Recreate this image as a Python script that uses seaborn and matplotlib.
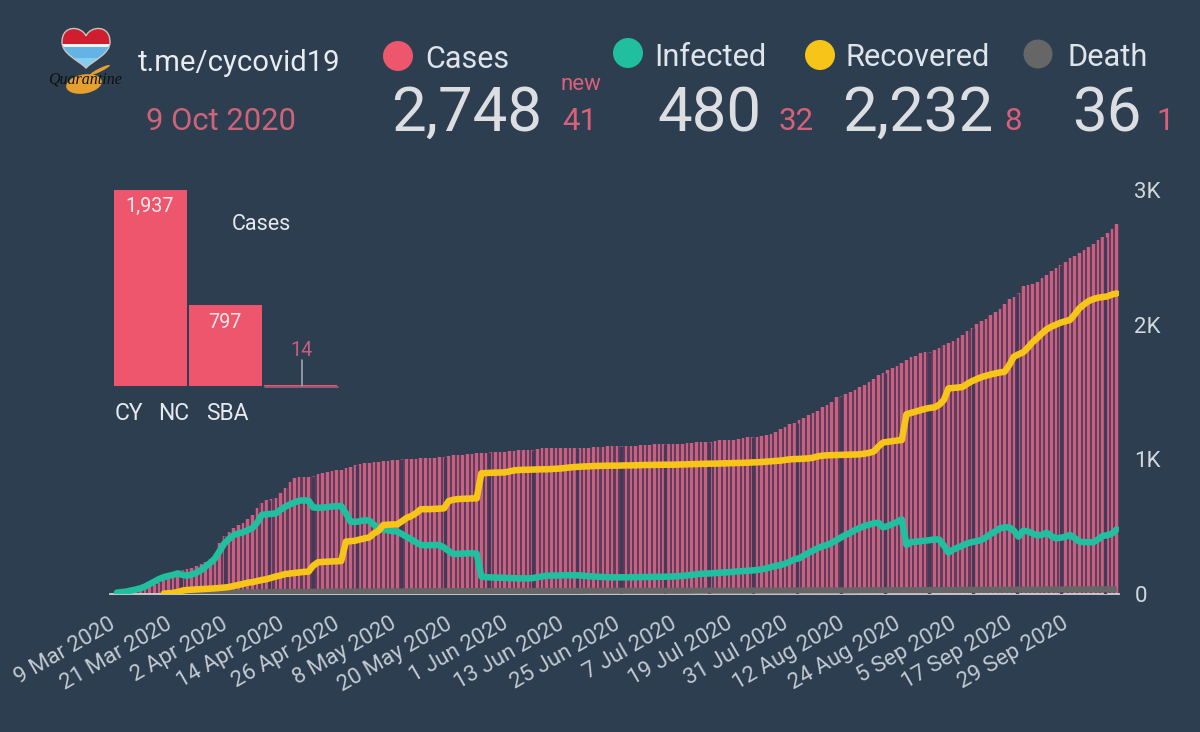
import numpy as np
import pandas as pd
import matplotlib
matplotlib.use("Agg")
import matplotlib.pyplot as plt
from matplotlib.patches import Circle, PathPatch, Rectangle, Ellipse
from matplotlib.path import Path
from matplotlib.transforms import ScaledTranslation
import seaborn as sns

nan = float("nan")

cases = [
 2,6,10,17,28,35,45,58,66,84,
 105,122,140,160,178,186,196,208,222,240,
 258,300,380,432,460,488,510,530,555,590,
 640,675,695,705,715,750,790,830,860,868,
 868,868,878,888,895,905,913,918,924,932,
 945,955,968,970,974,978,980,985,990,995,
 998,1000,1003,1005,1006,1008,1010,1012,1012,1014,
 1018,1025,1030,1032,1034,1036,1040,1047,1049,1050,
 1052,1054,1056,1058,1060,1064,1066,1068,1070,1072,
 1078,1082,1082,1083,1083,1084,1084,1084,1085,1085,
 1085,1086,1088,1090,1095,1098,1100,1100,1101,1101,
 1102,1102,1103,1105,1108,1112,1114,1114,1115,1115,
 1116,1117,1120,1124,1126,1127,1127,1128,1135,1143,
 1144,1145,1146,1148,1155,1163,1165,1166,1170,1182,
 1190,1205,1222,1240,1262,1272,1292,1310,1330,1345,
 1360,1385,1400,1425,1460,1470,1485,1500,1515,1535,
 1555,1575,1595,1626,1640,1660,1680,1695,1715,1740,
 1762,1770,1787,1795,1800,1815,1830,1849,1865,1880,
 1900,1920,1950,1973,2005,2025,2045,2070,2095,2120,
 2150,2190,2205,2237,2287,2295,2300,2319,2345,2370,
 2400,2418,2440,2465,2495,2510,2535,2555,2579,2600,
 2630,2648,2680,2707,2748]

infected = [
 10,14,18,26,33,42,55,74,92,111,
 125,134,142,153,142,136,145,158,178,205,
 232,265,320,376,410,438,450,458,475,490,
 530,587,592,595,599,625,648,665,680,693,
 695,693,643,640,642,645,650,652,653,600,
 537,535,540,548,545,515,488,480,472,468,
 463,445,425,405,385,364,362,362,364,364,
 345,320,297,298,300,302,302,300,129,125,
 123,122,121,120,118,117,116,116,116,118,
 125,130,136,136,137,138,139,139,139,138,
 135,132,130,128,126,125,124,124,124,124,
 124,125,126,126,127,127,128,128,129,130,
 132,134,138,142,146,150,152,153,155,158,
 160,162,165,168,170,173,175,178,183,190,
 200,208,215,225,240,257,265,285,305,322,
 340,355,364,380,400,420,440,455,475,490,
 505,515,525,530,495,505,520,535,554,365,
 385,388,392,396,400,406,404,360,307,330,
 345,360,376,385,392,401,420,445,465,488,
 495,495,470,426,470,465,450,435,440,455,
 430,413,418,425,438,415,389,385,385,384,
 405,431,436,448,480]

recovered = [
 nan,nan,nan,nan,nan,nan,nan,nan,nan,nan,
 3,5,8,15,25,30,32,34,36,38,
 40,42,45,48,52,60,67,75,84,88,
 96,104,110,120,130,138,148,152,156,160,
 164,166,210,235,238,240,242,243,245,389,
 392,396,405,413,420,450,470,512,515,516,
 517,540,565,579,600,629,630,630,632,634,
 636,690,700,705,707,708,710,710,896,898,
 900,901,902,903,910,918,921,922,923,924,
 925,926,926,928,930,932,936,940,943,945,
 947,948,950,951,952,953,953,953,954,955,
 955,956,957,958,958,959,959,960,960,960,
 961,962,963,964,965,966,967,968,968,969,
 970,971,972,973,974,975,977,978,980,983,
 985,988,990,995,1000,1002,1003,1005,1007,1012,
 1022,1027,1030,1031,1032,1033,1034,1035,1036,1037,
 1042,1048,1058,1095,1125,1130,1135,1140,1143,1335,
 1345,1355,1365,1375,1382,1386,1405,1440,1527,1530,
 1533,1537,1560,1580,1595,1610,1620,1630,1638,1645,
 1650,1700,1762,1780,1795,1830,1870,1900,1935,1965,
 1985,2000,2015,2025,2035,2075,2121,2150,2175,2190,
 2200,2205,2210,2224,2232]

deaths = [
 nan,nan,nan,nan,nan,nan,nan,nan,nan,nan,
 1,1,2,3,3,3,4,5,6,7,
 8,9,9,10,10,10,11,11,12,12,
 13,13,14,14,15,15,15,15,16,16,
 16,17,17,17,17,18,18,18,18,18,
 18,18,18,19,19,19,19,20,20,20,
 20,20,20,21,21,21,21,21,21,21,
 21,22,22,22,22,22,22,22,22,22,
 22,22,22,22,22,22,23,23,23,23,
 23,23,23,23,23,23,23,23,23,23,
 23,24,24,24,24,24,24,24,24,24,
 24,24,24,24,24,24,24,24,24,24,
 24,24,24,24,25,25,25,25,25,25,
 25,25,25,25,25,25,26,26,26,26,
 26,26,26,26,26,26,27,27,27,27,
 27,27,27,27,27,27,27,27,27,28,
 28,28,28,28,28,29,29,29,29,29,
 29,29,29,29,30,30,30,30,30,30,
 30,31,31,31,31,31,31,32,32,32,
 32,32,33,33,33,33,33,33,34,34,
 34,34,34,34,35,35,35,35,35,35,
 35,35,35,35,36]

tick_labels = ["9 Mar 2020", "21 Mar 2020", "2 Apr 2020", "14 Apr 2020", "26 Apr 2020",
               "8 May 2020", "20 May 2020", "1 Jun 2020", "13 Jun 2020", "25 Jun 2020",
               "7 Jul 2020", "19 Jul 2020", "31 Jul 2020", "12 Aug 2020", "24 Aug 2020",
               "5 Sep 2020", "17 Sep 2020", "29 Sep 2020"]
y_ticks = [0, 1000, 2000, 3000]
y_tick_labels = ["0", "1K", "2K", "3K"]

regions = ["CY", "NC", "SBA"]
region_cases = [1937, 797, 14]

BG = "#2c3e50"
PINK = "#ee566e"
TEAL = "#1fbf9f"
YELLOW = "#f6c518"
GREY = "#666666"
SOFT = "#d9607a"
LIGHT = "#dde1e6"

sns.set_theme(style="dark", rc={"figure.facecolor": BG, "axes.facecolor": BG, "savefig.facecolor": BG})
plt.rcParams["font.family"] = ["Roboto", "DejaVu Sans"]

W, H = 1200, 732
fig = plt.figure(figsize=(W / 100, H / 100), dpi=100)


def box(x0, y0, x1, y1):
    return [x0 / W, 1 - y1 / H, (x1 - x0) / W, (y1 - y0) / H]


df = pd.DataFrame({"day": np.arange(len(cases)), "cases": cases, "infected": infected,
                   "recovered": recovered, "deaths": deaths})

ax = fig.add_axes(box(110, 190, 1119, 594))
sns.barplot(data=df, x="day", y="cases", native_scale=True, width=1.0, color="#5f3d5c",
            saturation=1, ax=ax, zorder=1, linewidth=0, edgecolor="none")
sns.barplot(data=df, x="day", y="cases", native_scale=True, width=0.56, color="#c8607f",
            saturation=1, ax=ax, zorder=2, linewidth=0, edgecolor="none")
# the wider dark seams that run through the bar field
seams = np.arange(13.6, 214, 9.42)
ax.vlines(seams, 0, np.array(cases)[np.round(seams).astype(int)], color="#45395a", lw=2.4, zorder=3)
sns.lineplot(data=df, x="day", y="deaths", color=GREY, lw=4.4, errorbar=None, ax=ax, zorder=4,
             solid_capstyle="butt")
sns.lineplot(data=df, x="day", y="infected", color=TEAL, lw=4.7, errorbar=None, ax=ax, zorder=5,
             solid_joinstyle="round")
sns.lineplot(data=df, x="day", y="recovered", color=YELLOW, lw=4.7, errorbar=None, ax=ax, zorder=6,
             solid_joinstyle="round")
ax.set_xlim(-1.5, 214.5)
ax.set_ylim(0, 3000)
ax.set_xlabel("")
ax.set_ylabel("")
ax.patch.set_alpha(0)
for s in ["top", "left", "right"]:
    ax.spines[s].set_visible(False)
ax.spines["bottom"].set_color("#cfd2d8")
ax.spines["bottom"].set_linewidth(1.3)
ax.set_xticks(np.arange(len(tick_labels)) * 12)
ax.set_xticklabels(tick_labels, rotation=30, ha="right", va="top", rotation_mode="anchor",
                   fontsize=16, color="#c3cad2")
ax.tick_params(axis="x", length=0, pad=14)
shift = ScaledTranslation(-8 / 100, 0, fig.dpi_scale_trans)
for lab in ax.get_xticklabels():
    lab.set_transform(lab.get_transform() + shift)
ax.yaxis.tick_right()
ax.set_yticks(y_ticks)
ax.set_yticklabels(y_tick_labels, fontsize=16, color="#d3d7dd")
ax.tick_params(axis="y", length=0, pad=11)

# inset: cases per region
inset = fig.add_axes(box(113, 190, 338, 386))
rd = pd.DataFrame({"region": regions, "cases": region_cases})
sns.barplot(data=rd, x="region", y="cases", color=PINK, saturation=1, width=0.97, ax=inset,
            linewidth=0, edgecolor="none")
inset.set_xlim(-0.5, 2.5)
inset.set_ylim(0, 1937)
inset.axis("off")

# overlay in pixel coordinates for the header, logo and labels
ov = fig.add_axes([0, 0, 1, 1], zorder=10)
ov.set_xlim(0, W)
ov.set_ylim(H, 0)
ov.axis("off")


def T(x, y, s, size, color=LIGHT, ha="center", **kw):
    ov.text(x, y, s, fontsize=size, color=color, ha=ha, va="center", **kw)


# inset labels
T(150, 206, "1,937", 14.2, "#f3e9ea")
T(225, 322, "797", 14.2, "#f3e9ea")
T(301, 351, "14", 14.2, "#c4607c")
T(261, 224, "Cases", 15.5, "#e6e9ee")
T(129, 414, regions[0], 16.5, "#e6e9ee")
T(174, 414, regions[1], 16.5, "#e6e9ee")
T(227, 414, regions[2], 16.5, "#e6e9ee")
ov.plot([302, 302], [360, 386], color="#9fa3b3", lw=1.2)
ov.plot([265, 338], [386.5, 386.5], color="#a5607f", lw=1.2)

# header
T(138, 63, "t.me/cycovid19", 21.1, "#e8ecf0", ha="left")
T(221, 122, "9 Oct 2020", 22.3, "#cf6479")
for (cx, cy, r, c) in [(398, 56, 15, PINK), (628, 53, 15, TEAL), (820, 55, 15, YELLOW), (1038, 54, 14.5, GREY)]:
    ov.add_patch(Circle((cx, cy), r, color=c, lw=0))
T(425, 60, "Cases", 22, "#dfe4ea", ha="left")
T(654, 57, "Infected", 22.2, "#dfe4ea", ha="left")
T(846, 57, "Recovered", 22.2, "#dfe4ea", ha="left")
T(1068, 57, "Death", 22.2, "#dfe4ea", ha="left")
T(467, 114, "2,748", 44.5, "#dcdee2")
T(709, 114, "480", 44.5, "#dcdee2")
T(918, 114, "2,232", 44.5, "#dcdee2")
T(1107, 114, "36", 44.5, "#dcdee2")
T(581, 84, "new", 16, SOFT)
T(580, 122, "41", 22.5, SOFT)
T(796, 122, "32", 22.5, SOFT)
T(1013, 122, "8", 22.5, SOFT)
T(1165, 122, "1", 22.5, SOFT)

# logo
verts = [(86, 36), (82, 26), (62, 24), (62, 42), (62, 54), (78, 60), (86, 68),
         (94, 60), (110, 54), (110, 42), (110, 24), (90, 26), (86, 36)]
codes = [Path.MOVETO] + [Path.CURVE4] * 12
heart = Path(verts, codes)
ov.add_patch(PathPatch(heart, fc="none", ec="#c9c3c0", lw=1.0, zorder=3))
for (y0, y1, c) in [(25, 44, "#cf1f2e"), (44, 47, "#eef2f6"), (47, 58, "#63b4e4"), (58, 70, "#86cdf0")]:
    rect = Rectangle((60, y0), 52, y1 - y0, fc=c, ec="none", zorder=2)
    ov.add_patch(rect)
    rect.set_clip_path(PathPatch(heart, transform=ov.transData))
ov.add_patch(Ellipse((84, 84), 36, 19, angle=-10, fc="#e5a02f", ec="none"))
ov.add_patch(Ellipse((100, 70), 22, 3.5, angle=-26, fc="#e5a02f", ec="none"))
ov.text(85, 79, "Quarantine", fontsize=11.5, color="#101010", ha="center", va="center",
        style="italic", family=["Liberation Serif"])

fig.savefig("out.png", dpi=100)
